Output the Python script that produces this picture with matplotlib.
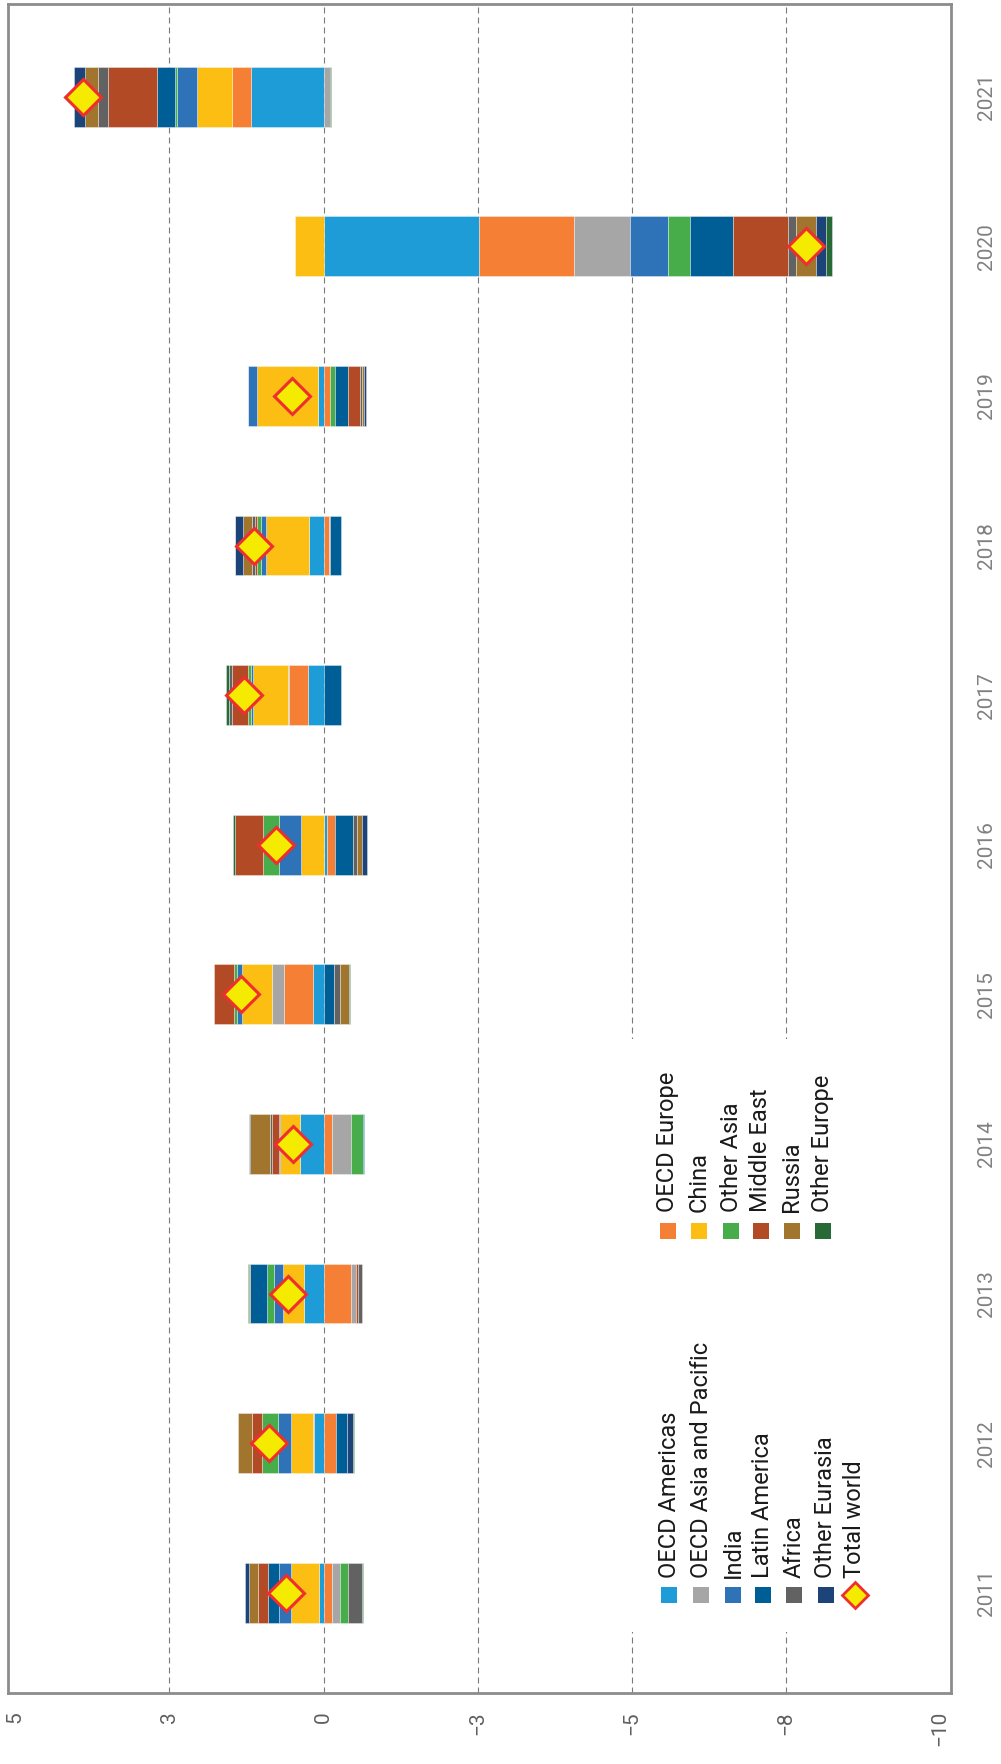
import numpy as np
import matplotlib
matplotlib.use('Agg')
import matplotlib.pyplot as plt
from matplotlib.patches import Rectangle

plt.rcParams['font.family'] = ['Roboto', 'DejaVu Sans']

# data (mb/d change per year)
years = [2011, 2012, 2013, 2014, 2015, 2016, 2017, 2018, 2019, 2020, 2021]
regions = ['OECD Americas', 'OECD Europe', 'OECD Asia and Pacific', 'China', 'India',
           'Other Asia', 'Latin America', 'Middle East', 'Africa', 'Russia',
           'Other Eurasia', 'Other Europe']
oecd_americas = [0.08, 0.19, 0.38, 0.45, 0.20, -0.07, 0.30, 0.28, 0.11, -3.02, 1.41]
oecd_europe   = [-0.17, -0.25, -0.53, -0.17, 0.57, -0.16, 0.37, -0.10, -0.12, -1.86, 0.37]
oecd_asia_pac = [-0.15, 0.02, -0.10, -0.36, 0.24, 0.00, 0.03, -0.02, 0.00, -1.09, -0.12]
china         = [0.55, 0.42, 0.41, 0.40, 0.57, 0.43, 0.67, 0.84, 1.18, 0.56, 0.69]
india         = [0.24, 0.25, 0.18, 0.02, 0.10, 0.43, 0.05, 0.10, 0.18, -0.73, 0.38]
other_asia    = [-0.16, 0.31, 0.13, -0.24, 0.06, 0.32, 0.05, 0.08, -0.11, -0.43, 0.05]
latin_america = [0.21, -0.20, 0.33, -0.02, -0.21, -0.34, -0.34, -0.22, -0.25, -0.83, 0.34]
middle_east   = [0.19, 0.20, -0.04, 0.14, 0.40, 0.55, 0.32, 0.04, -0.22, -1.07, 0.95]
africa        = [-0.26, 0.00, -0.07, 0.03, -0.12, -0.09, 0.05, 0.05, -0.04, -0.17, 0.19]
russia        = [0.19, 0.28, 0.02, 0.39, -0.16, -0.08, 0.00, 0.17, -0.04, -0.38, 0.26]
other_eurasia = [0.07, -0.12, 0.00, 0.015, -0.01, -0.10, 0.00, 0.16, -0.04, -0.19, 0.21]
other_europe  = [-0.03, -0.02, 0.02, 0.00, -0.02, 0.04, 0.06, 0.00, 0.00, -0.13, -0.03]
total_world   = [0.74, 1.07, 0.70, 0.59, 1.61, 0.92, 1.55, 1.36, 0.62, -9.38, 4.69]

xticks = [6, 3, 0, -3, -6, -9, -12]
xlabels = ['5', '3', '0', '\u22123', '\u22125', '\u22128', '\u221210']

series = [oecd_americas, oecd_europe, oecd_asia_pac, china, india, other_asia,
          latin_america, middle_east, africa, russia, other_eurasia, other_europe]
colors = ['#1E9CD7', '#F57F35', '#A6A6A6', '#FDBE14', '#2E72B8', '#46AD4A',
          '#005E96', '#B34A26', '#626262', '#A2752E', '#1C4479', '#276937']

W, H = 1001, 1764
fig = plt.figure(figsize=(W / 100, H / 100), dpi=100)
L, R, T, B = 8, 951, 4, 1693
ax = fig.add_axes([L / W, 1 - B / H, (R - L) / W, (B - T) / H])

# stacked bars, positives and negatives stacked apart
pos = np.zeros(len(years))
neg = np.zeros(len(years))
for vals, c in zip(series, colors):
    v = np.array(vals)
    left = np.where(v >= 0, pos, neg)
    ax.barh(years, v, left=left, height=0.4, color=c,
            edgecolor=(1, 1, 1, 0.5), linewidth=0.5, zorder=3)
    pos += np.where(v >= 0, v, 0)
    neg += np.where(v < 0, v, 0)

ax.plot(total_world, years, 'D', ms=18, mfc='#F5EB00', mec='#EE2E2F',
        mew=2.2, ls='none', zorder=5)

# grid
for v in xticks[1:-1]:
    ax.axvline(v, color='#7a7a7a', lw=0.8, ls=(0, (5.4, 3.6)), zorder=1)

ax.set_xlim(6.14, -12.21)
ax.set_ylim(2010.33, 2021.62)
ax.set_xticks(xticks)
ax.set_xticklabels(xlabels)
ax.set_yticks(years)
ax.set_yticklabels([str(y) for y in years])
ax.yaxis.tick_right()
ax.tick_params(axis='x', length=0, pad=13, labelsize=15, labelcolor='#606060',
               labelrotation=90)
ax.tick_params(axis='y', length=0, pad=19, labelsize=15, labelcolor='#808080',
               labelrotation=90)
for t in ax.get_xticklabels():
    t.set_va('top')
    t.set_ha('center')
for t in ax.get_yticklabels():
    t.set_va('center')
for s in ax.spines.values():
    s.set_color('#8c8c8c')
    s.set_linewidth(2)

# legend drawn by hand, rotated like the rest of the chart
def axp(x, y):
    return (x - L) / (R - L), 1 - (y - T) / (B - T)

x0, y0 = axp(560, 1632)
x1, y1 = axp(900, 1039)
ax.add_patch(Rectangle((x0, y0), x1 - x0, y1 - y0, transform=ax.transAxes,
                       facecolor='white', edgecolor='none', zorder=2))

col1 = [0, 2, 4, 6, 8, 10]
col2 = [1, 3, 5, 7, 9, 11]
col1_x = [669, 701, 733, 763, 794, 826]
col2_x = [668, 699, 731, 761, 792, 823]
for idx, xp in zip(col1, col1_x):
    ax.add_patch(Rectangle(axp(xp - 8, 1603), 16 / (R - L), 16 / (B - T),
                           transform=ax.transAxes, facecolor=colors[idx],
                           edgecolor='none', zorder=6, clip_on=False))
    ax.text(*axp(xp, 1578), regions[idx], transform=ax.transAxes, rotation=90,
            ha='center', va='bottom', fontsize=17, color='#1a1a1a', zorder=6)
for idx, xp in zip(col2, col2_x):
    ax.add_patch(Rectangle(axp(xp - 8, 1239), 16 / (R - L), 16 / (B - T),
                           transform=ax.transAxes, facecolor=colors[idx],
                           edgecolor='none', zorder=6, clip_on=False))
    ax.text(*axp(xp, 1212), regions[idx], transform=ax.transAxes, rotation=90,
            ha='center', va='bottom', fontsize=17, color='#1a1a1a', zorder=6)
ax.plot(*axp(855, 1595), 'D', transform=ax.transAxes, ms=13, mfc='#F5EB00',
        mec='#EE2E2F', mew=2, zorder=6, clip_on=False)
ax.text(*axp(855, 1578), 'Total world', transform=ax.transAxes, rotation=90,
        ha='center', va='bottom', fontsize=17, color='#1a1a1a', zorder=6)

fig.savefig('out.png', dpi=100)
